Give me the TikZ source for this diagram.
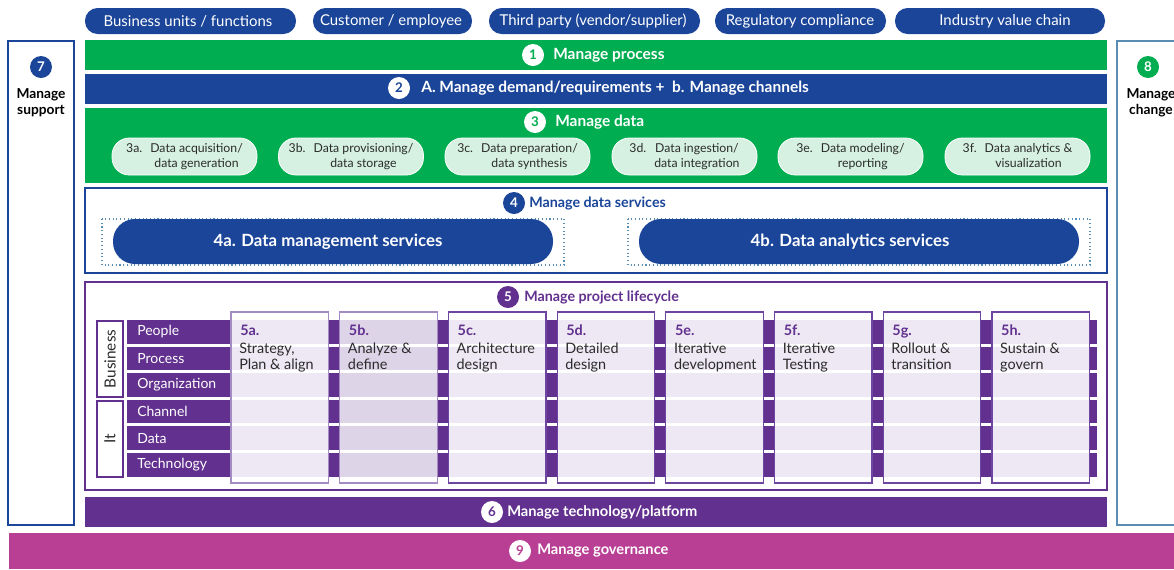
\documentclass[tikz,border=0pt]{standalone}
\usepackage{fontspec}
\setmainfont{Lato}
\definecolor{navy}{HTML}{1A4599}
\definecolor{grn}{HTML}{00AD50}
\definecolor{pgreen}{HTML}{D6F1E2}
\definecolor{purp}{HTML}{62308E}
\definecolor{mag}{HTML}{B83F94}
\definecolor{lav}{HTML}{EDE8F3}
\definecolor{lavd}{HTML}{DDD4E8}
\definecolor{colb}{HTML}{6E45A0}
\definecolor{colbl}{HTML}{A38BC4}
\definecolor{steel}{HTML}{5A8DB3}
\definecolor{txt}{HTML}{2B2B2B}
\tikzset{
  circ/.style={circle, inner sep=0pt, minimum size=16.5pt, font=\fontsize{10}{10}\selectfont\bfseries},
  bartitle/.style={anchor=west, inner sep=0pt, text=white, font=\fontsize{11.6}{13}\selectfont\bfseries},
  bartitlesm/.style={bartitle, font=\fontsize{11}{13}\selectfont\bfseries},
  toptxt/.style={text=white, inner sep=0pt, font=\fontsize{11.2}{13}\selectfont},
  ptxt/.style={text=txt, inner sep=0pt, font=\fontsize{9.2}{11.25}\selectfont},
  svctxt/.style={text=white, inner sep=0pt, font=\fontsize{12.6}{14}\selectfont\bfseries},
  sectitle/.style={anchor=west, inner sep=0pt, font=\fontsize{10.7}{12}\selectfont\bfseries},
  rowtxt/.style={anchor=west, inner sep=0pt, text=white, font=\fontsize{10.5}{12}\selectfont},
  vtxt/.style={rotate=90, inner sep=0pt, text=txt, font=\fontsize{11.5}{12}\selectfont},
  colhead/.style={anchor=base west, inner sep=0pt, text=purp, font=\fontsize{10.8}{12}\selectfont\bfseries},
  coldesc/.style={anchor=base west, inner sep=0pt, text=txt, font=\fontsize{10.8}{12}\selectfont},
  sidetxt/.style={inner sep=0pt, align=center, text=black, font=\fontsize{10.3}{12}\selectfont\bfseries},
}
\newcommand\pthree[5]{%
  \fill[pgreen, draw=white, line width=0.6pt, rounded corners=13pt] (#2-72.5,138) rectangle (#2+72.5,175);
  \node[ptxt] (#1) at (#2,156.5) {\begin{tabular}[t]{@{}l@{}}#3\end{tabular}\hspace{6pt}\begin{tabular}[t]{@{}c@{}}#4\\#5\end{tabular}};
}
\begin{document}
\begin{tikzpicture}[x=0.75pt,y=-0.75pt]
\useasboundingbox (0,0) rectangle (1174,569);
\fill[white] (0,0) rectangle (1174,569);

% top pills
\fill[navy, rounded corners=9.5pt] (85,8) rectangle (296,34);
\node[toptxt] (tp1) at (188,21) {Business units / functions};
\fill[navy, rounded corners=9.5pt] (313,8) rectangle (472,34);
\node[toptxt] (tp2) at (391,21) {Customer / employee};
\fill[navy, rounded corners=9.5pt] (489,8) rectangle (700,34);
\node[toptxt] (tp3) at (593,21) {Third party (vendor/supplier)};
\fill[navy, rounded corners=9.5pt] (715,8) rectangle (886,34);
\node[toptxt] (tp4) at (800,21) {Regulatory compliance};
\fill[navy, rounded corners=9.5pt] (895,8) rectangle (1105,34);
\node[toptxt] (tp5) at (1005,21) {Industry value chain};

% side boxes
\draw[navy, line width=1pt] (8,41) rectangle (74,525);
\node[circ, fill=navy, text=white] (c7) at (41,67) {7};
\node[sidetxt] (t7) at (41,103) {Manage\\support};
\draw[steel, line width=1pt] (1117,41) rectangle (1200,525);
\node[circ, fill=grn, text=white] (c8) at (1148,67) {8};
\node[sidetxt] (t8) at (1151,103) {Manage\\change};

% bar 1
\fill[grn] (85,40) rectangle (1107,70);
\node[circ, fill=white, text=grn] (c1) at (533,55) {1};
\node[bartitle] (t1) at (553,55) {Manage process};
% bar 2
\fill[navy] (85,74) rectangle (1107,104);
\node[circ, fill=white, text=navy] (c2) at (399,88) {2};
\node[bartitle] (t2) at (421,88) {A. Manage demand/requirements +\ \ b. Manage channels};
% bar 3
\fill[grn] (85,108) rectangle (1107,183);
\node[circ, fill=white, text=grn] (c3) at (535,122) {3};
\node[bartitle] (t3) at (555,122) {Manage data};
\pthree{p3a}{184.5}{3a.}{Data acquisition/}{data generation}
\pthree{p3b}{351}{3b.}{Data provisioning/}{data storage}
\pthree{p3c}{517.5}{3c.}{Data preparation/}{data synthesis}
\pthree{p3d}{684.5}{3d.}{Data ingestion/}{data integration}
\pthree{p3e}{850.5}{3e.}{Data modeling/}{reporting}
\pthree{p3f}{1017.5}{3f.\hspace{3pt}}{Data analytics \&}{visualization}

% section 4
\draw[navy, line width=1pt] (85,188) rectangle (1107,273);
\node[circ, fill=navy, text=white] (c4) at (514,203) {4};
\node[sectitle, text=navy] (t4) at (529,203) {Manage data services};
\draw[steel, dotted, line width=0.8pt] (102,219) rectangle (564,265);
\draw[steel, dotted, line width=0.8pt] (628,219) rectangle (1090,265);
\fill[navy, rounded corners=16.5pt] (113,219) rectangle (553,264);
\node[svctxt] (s4a) at (328,241.5) {4a. Data management services};
\fill[navy, rounded corners=16.5pt] (639,219) rectangle (1079,264);
\node[svctxt] (s4b) at (850,241.5) {4b. Data analytics services};

% section 5
\draw[purp, line width=1pt] (85,282) rectangle (1107,490);
\node[circ, fill=purp, text=white] (c5) at (508,297) {5};
\node[sectitle, text=purp] (t5) at (524,297) {Manage project lifecycle};
\draw[purp, line width=0.8pt] (97,321) rectangle (123,397);
\node[vtxt] (vb) at (110,359) {Business};
\draw[purp, line width=0.8pt] (97,401) rectangle (123,477);
\node[vtxt] (vi) at (110,439) {It};
% row bars
\foreach \i in {0,...,5} {
  \fill[purp] (127,320+26.6*\i) rectangle (1097,343.5+26.6*\i);
}
\node[rowtxt] (r1) at (137,331.75) {People};
\node[rowtxt] (r2) at (137,358.35) {Process};
\node[rowtxt] (r3) at (137,384.95) {Organization};
\node[rowtxt] (r4) at (137,411.55) {Channel};
\node[rowtxt] (r5) at (137,438.15) {Data};
\node[rowtxt] (r6) at (137,464.75) {Technology};
% columns
\foreach \j/\fc/\bc in {0/lav/colbl,1/lavd/colbl,2/lav/colb,3/lav/colb,4/lav/colb,5/lav/colb,6/lav/colb,7/lav/colb} {
  \pgfmathsetmacro\xa{231+108.7*\j}
  \fill[white] (\xa,312) rectangle (\xa+97.5,483);
  \foreach \i in {0,...,5} {
    \fill[\fc] (\xa,320+26.6*\i) rectangle (\xa+97.5,343.5+26.6*\i);
  }
  \draw[\bc, line width=0.9pt] (\xa,312) rectangle (\xa+97.5,483);
}
\foreach \j/\h/\la/\lb in {0/5a./{Strategy,}/{Plan \& align},1/5b./{Analyze \&}/{define},2/5c./{Architecture}/{design},3/5d./{Detailed}/{design},4/5e./{Iterative}/{development},5/5f./{Iterative}/{Testing},6/5g./{Rollout \&}/{transition},7/5h./{Sustain \&}/{govern}} {
  \node[colhead] (h\j) at (240+108.7*\j,335) {\h};
  \node[coldesc] (d\j) at (239+108.7*\j,353.5) {\begin{tabular}[t]{@{}l@{}}\la\\[0pt]\lb\end{tabular}};
}

% bar 6
\fill[purp] (85,497) rectangle (1107,527);
\node[circ, fill=white, text=purp] (c6) at (492,512) {6};
\node[bartitlesm] (t6) at (507,512) {Manage technology/platform};
% bar 9
\fill[mag] (9,533) rectangle (1174,569);
\node[circ, fill=white, text=mag] (c9) at (520,551) {9};
\node[bartitlesm] (t9) at (537,551) {Manage governance};
\end{tikzpicture}
\end{document}
